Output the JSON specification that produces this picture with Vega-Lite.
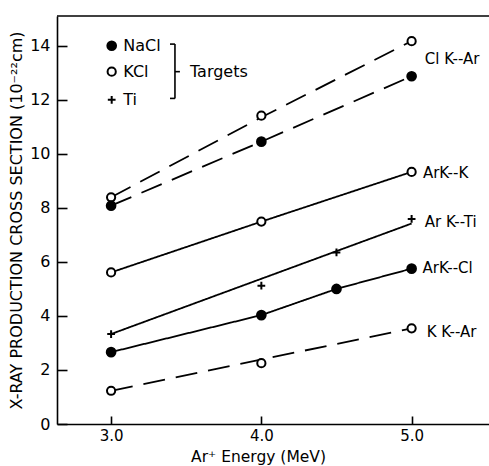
{
  "$schema": "https://vega.github.io/schema/vega-lite/v6.json",
  "width": 432,
  "height": 408,
  "autosize": {"type": "none"},
  "padding": {"left": 57, "top": 16, "right": 0, "bottom": 42},
  "background": "white",
  "config": {
    "view": {"stroke": null},
    "font": "DejaVu Sans",
    "axis": {
      "grid": false,
      "domainColor": "black",
      "domainWidth": 1.6,
      "tickColor": "black",
      "tickWidth": 1.6,
      "labelColor": "black",
      "titleColor": "black",
      "labelFont": "DejaVu Sans",
      "titleFont": "DejaVu Sans",
      "labelFontSize": 16,
      "titleFontSize": 15,
      "titleFontWeight": "normal"
    }
  },
  "datasets": {
    "pts": [
      {"series": "ClKAr_KCl", "target": "KCl", "x": 3.0, "y": 8.39},
      {"series": "ClKAr_KCl", "target": "KCl", "x": 4.0, "y": 11.41},
      {"series": "ClKAr_KCl", "target": "KCl", "x": 5.0, "y": 14.17},
      {"series": "ClKAr_NaCl", "target": "NaCl", "x": 3.0, "y": 8.08},
      {"series": "ClKAr_NaCl", "target": "NaCl", "x": 4.0, "y": 10.45},
      {"series": "ClKAr_NaCl", "target": "NaCl", "x": 5.0, "y": 12.87},
      {"series": "ArKK", "target": "KCl", "x": 3.0, "y": 5.61},
      {"series": "ArKK", "target": "KCl", "x": 4.0, "y": 7.49},
      {"series": "ArKK", "target": "KCl", "x": 5.0, "y": 9.33},
      {"series": "ArKTi", "target": "Ti", "x": 3.0, "y": 3.33},
      {"series": "ArKTi", "target": "Ti", "x": 4.0, "y": 5.12},
      {"series": "ArKTi", "target": "Ti", "x": 4.5, "y": 6.35},
      {"series": "ArKTi", "target": "Ti", "x": 5.0, "y": 7.59},
      {"series": "ArKCl", "target": "NaCl", "x": 3.0, "y": 2.66},
      {"series": "ArKCl", "target": "NaCl", "x": 4.0, "y": 4.03},
      {"series": "ArKCl", "target": "NaCl", "x": 4.5, "y": 5.0},
      {"series": "ArKCl", "target": "NaCl", "x": 5.0, "y": 5.75},
      {"series": "KKAr", "target": "KCl", "x": 3.0, "y": 1.23},
      {"series": "KKAr", "target": "KCl", "x": 4.0, "y": 2.25},
      {"series": "KKAr", "target": "KCl", "x": 5.0, "y": 3.54}
    ],
    "lines": [
      {"series": "ClKAr_KCl", "style": "dashed", "x": 3.0, "y": 8.39},
      {"series": "ClKAr_KCl", "style": "dashed", "x": 4.0, "y": 11.35},
      {"series": "ClKAr_KCl", "style": "dashed", "x": 5.0, "y": 14.17},
      {"series": "ClKAr_NaCl", "style": "dashed", "x": 3.0, "y": 8.08},
      {"series": "ClKAr_NaCl", "style": "dashed", "x": 4.0, "y": 10.45},
      {"series": "ClKAr_NaCl", "style": "dashed", "x": 5.0, "y": 12.87},
      {"series": "ArKK", "style": "solid", "x": 3.0, "y": 5.61},
      {"series": "ArKK", "style": "solid", "x": 4.0, "y": 7.49},
      {"series": "ArKK", "style": "solid", "x": 5.0, "y": 9.33},
      {"series": "ArKTi", "style": "solid", "x": 3.0, "y": 3.33},
      {"series": "ArKTi", "style": "solid", "x": 5.0, "y": 7.42},
      {"series": "ArKCl", "style": "solid", "x": 3.0, "y": 2.66},
      {"series": "ArKCl", "style": "solid", "x": 4.0, "y": 4.03},
      {"series": "ArKCl", "style": "solid", "x": 4.5, "y": 5.0},
      {"series": "ArKCl", "style": "solid", "x": 5.0, "y": 5.75},
      {"series": "KKAr", "style": "dashed", "x": 3.0, "y": 1.23},
      {"series": "KKAr", "style": "dashed", "x": 5.0, "y": 3.54}
    ],
    "labels": [
      {"label": "Cl K--Ar", "x": 5.088, "y": 13.5},
      {"label": "ArK--K", "x": 5.075, "y": 9.29},
      {"label": "Ar K--Ti", "x": 5.088, "y": 7.49},
      {"label": "ArK--Cl", "x": 5.073, "y": 5.77},
      {"label": "K K--Ar", "x": 5.1, "y": 3.41}
    ],
    "legend": [
      {"target": "NaCl", "x": 3.004, "tx": 3.081, "y": 14.0},
      {"target": "KCl", "x": 3.004, "tx": 3.081, "y": 13.04},
      {"target": "Ti", "x": 3.004, "tx": 3.081, "y": 12.0}
    ],
    "bracket": [
      {"x": 3.425, "x2": 3.425, "y": 12.05, "y2": 14.06},
      {"x": 3.392, "x2": 3.425, "y": 14.06, "y2": 14.06},
      {"x": 3.392, "x2": 3.425, "y": 12.05, "y2": 12.05},
      {"x": 3.425, "x2": 3.458, "y": 13.04, "y2": 13.04}
    ],
    "bracketText": [
      {"label": "Targets", "x": 3.525, "y": 13.04}
    ],
    "frameTop": [
      {"y": 15.1}
    ]
  },
  "layer": [
    {
      "data": {"name": "frameTop"},
      "mark": {"type": "rule", "color": "black", "strokeWidth": 1.6},
      "encoding": {
        "y": {"field": "y", "type": "quantitative", "scale": {"domain": [0, 15.1], "nice": false, "zero": false}}
      }
    },
    {
      "data": {"name": "lines"},
      "mark": {"type": "line", "color": "black", "strokeWidth": 1.8},
      "encoding": {
        "x": {
          "field": "x", "type": "quantitative",
          "scale": {"domain": [2.64, 5.515], "nice": false, "zero": false},
          "axis": {
            "values": [3, 4, 5],
            "format": ".1f",
            "tickSize": -8,
            "labelPadding": 12,
            "labelFontSize": 15,
            "title": "Ar⁺ Energy  (MeV)",
            "titleX": 201,
            "titleY": 37,
            "titleBaseline": "alphabetic",
            "titleFontSize": 15.5
          }
        },
        "y": {
          "field": "y", "type": "quantitative",
          "scale": {"domain": [0, 15.1], "nice": false, "zero": false},
          "axis": {
            "values": [0, 2, 4, 6, 8, 10, 12, 14],
            "tickSize": -10,
            "labelPadding": 17,
            "title": "X-RAY  PRODUCTION  CROSS  SECTION  (10⁻²²cm)",
            "titleFontSize": 16,
            "titlePadding": 5
          }
        },
        "detail": {"field": "series"},
        "strokeDash": {
          "field": "style", "type": "nominal",
          "scale": {"domain": ["solid", "dashed"], "range": [[1, 0], [22, 11]]},
          "legend": null
        }
      }
    },
    {
      "data": {"name": "pts"},
      "mark": {"type": "point", "filled": false, "stroke": "black", "strokeWidth": 2, "opacity": 1},
      "encoding": {
        "x": {"field": "x", "type": "quantitative"},
        "y": {"field": "y", "type": "quantitative"},
        "shape": {
          "field": "target", "type": "nominal",
          "scale": {"domain": ["NaCl", "KCl", "Ti"], "range": ["circle", "circle", "M-1,0L1,0M0,-1L0,1"]},
          "legend": null
        },
        "fill": {
          "field": "target", "type": "nominal",
          "scale": {"domain": ["NaCl", "KCl", "Ti"], "range": ["black", "white", "transparent"]},
          "legend": null
        },
        "size": {
          "field": "target", "type": "nominal",
          "scale": {"domain": ["NaCl", "KCl", "Ti"], "range": [75, 60, 170]},
          "legend": null
        }
      }
    },
    {
      "data": {"name": "legend"},
      "mark": {"type": "point", "filled": false, "stroke": "black", "strokeWidth": 2, "opacity": 1},
      "encoding": {
        "x": {"field": "x", "type": "quantitative"},
        "y": {"field": "y", "type": "quantitative"},
        "shape": {"field": "target", "type": "nominal", "legend": null},
        "fill": {"field": "target", "type": "nominal", "legend": null},
        "size": {"field": "target", "type": "nominal", "legend": null}
      }
    },
    {
      "data": {"name": "legend"},
      "mark": {"type": "text", "align": "left", "baseline": "middle", "fontSize": 16, "font": "DejaVu Sans", "color": "black"},
      "encoding": {
        "x": {"field": "tx", "type": "quantitative"},
        "y": {"field": "y", "type": "quantitative"},
        "text": {"field": "target"}
      }
    },
    {
      "data": {"name": "bracket"},
      "mark": {"type": "rule", "color": "black", "strokeWidth": 1.6},
      "encoding": {
        "x": {"field": "x", "type": "quantitative"},
        "x2": {"field": "x2"},
        "y": {"field": "y", "type": "quantitative"},
        "y2": {"field": "y2"}
      }
    },
    {
      "data": {"name": "bracketText"},
      "mark": {"type": "text", "align": "left", "baseline": "middle", "fontSize": 16, "font": "DejaVu Sans", "color": "black"},
      "encoding": {
        "x": {"field": "x", "type": "quantitative"},
        "y": {"field": "y", "type": "quantitative"},
        "text": {"field": "label"}
      }
    },
    {
      "data": {"name": "labels"},
      "mark": {"type": "text", "align": "left", "baseline": "middle", "fontSize": 15, "font": "DejaVu Sans", "color": "black"},
      "encoding": {
        "x": {"field": "x", "type": "quantitative"},
        "y": {"field": "y", "type": "quantitative"},
        "text": {"field": "label"}
      }
    }
  ]
}
